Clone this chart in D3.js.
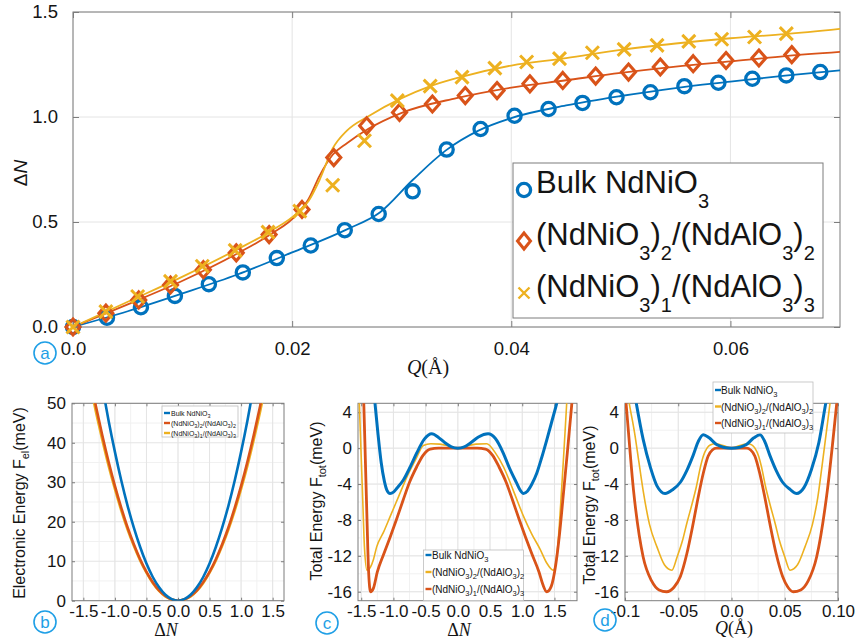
<!DOCTYPE html>
<html>
<head>
<meta charset="utf-8">
<title>Charge disproportionation and energy landscapes of NdNiO3 films</title>
<script src="https://cdn.jsdelivr.net/npm/d3@7/dist/d3.min.js"></script>
<style>
  html, body { margin: 0; padding: 0; background: #fff; }
  svg { display: block; }
  text { font-family: "Liberation Sans", Arial, Helvetica, sans-serif; fill: #141414; }
  .serif { font-family: "Liberation Serif", "Times New Roman", serif; }
</style>
</head>
<body>
<svg id="fig" width="855" height="640"></svg>
<script>
// ===== Panel (a): charge disproportionation ΔN versus breathing amplitude Q =====
const qBulk  = [0, 0.0031, 0.0062, 0.0093, 0.0124, 0.0155, 0.0186, 0.0217, 0.0248, 0.0279, 0.0310, 0.0341,
                0.0372, 0.0403, 0.0434, 0.0465, 0.0496, 0.0527, 0.0558, 0.0589, 0.0620, 0.0651, 0.0682];
const dnBulk = [0, 0.044, 0.094, 0.148, 0.204, 0.260, 0.328, 0.388, 0.461, 0.538, 0.646, 0.845,
                0.943, 1.006, 1.038, 1.067, 1.094, 1.118, 1.147, 1.163, 1.182, 1.198, 1.214];
const q22    = [0, 0.0030, 0.0060, 0.0089, 0.0119, 0.0149, 0.0179, 0.0209, 0.0238, 0.0268, 0.0298, 0.0328,
                0.0358, 0.0387, 0.0417, 0.0447, 0.0477, 0.0507, 0.0536, 0.0566, 0.0596, 0.0626, 0.0656];
const dn22   = [0, 0.066, 0.129, 0.200, 0.273, 0.353, 0.440, 0.560, 0.807, 0.958, 1.022, 1.062,
                1.102, 1.126, 1.158, 1.174, 1.195, 1.214, 1.238, 1.254, 1.269, 1.281, 1.297];
const q13    = [0, 0.0030, 0.0059, 0.0089, 0.0118, 0.0148, 0.0178, 0.0207, 0.0237, 0.0266, 0.0296, 0.0326,
                0.0355, 0.0385, 0.0414, 0.0444, 0.0474, 0.0503, 0.0533, 0.0562, 0.0592, 0.0622, 0.0651];
const dn13   = [0, 0.073, 0.145, 0.217, 0.289, 0.365, 0.452, 0.552, 0.675, 0.887, 1.078, 1.147,
                1.190, 1.233, 1.262, 1.278, 1.306, 1.322, 1.341, 1.360, 1.370, 1.381, 1.397];

// smooth fits through the computed points
const fitQBulk = [0, 0.005, 0.010, 0.015, 0.020, 0.025, 0.028, 0.031, 0.034, 0.037, 0.040, 0.045,
                  0.050, 0.055, 0.060, 0.065, 0.070];
const fitBulk  = [0, 0.075, 0.160, 0.250, 0.355, 0.465, 0.545, 0.700, 0.840, 0.935, 0.995, 1.055,
                  1.100, 1.138, 1.168, 1.197, 1.222];
const fitQ22   = [0, 0.005, 0.010, 0.015, 0.018, 0.0205, 0.0215, 0.0225, 0.0237, 0.025, 0.027, 0.030,
                  0.035, 0.040, 0.045, 0.050, 0.055, 0.060, 0.065, 0.070];
const fit22    = [0, 0.108, 0.220, 0.350, 0.440, 0.540, 0.610, 0.720, 0.820, 0.875, 0.945, 1.020,
                  1.090, 1.140, 1.175, 1.210, 1.240, 1.265, 1.290, 1.310];
const fitQ13   = [0, 0.005, 0.010, 0.015, 0.018, 0.0205, 0.0215, 0.0225, 0.0237, 0.025, 0.027, 0.030,
                  0.0325, 0.035, 0.040, 0.045, 0.050, 0.055, 0.060, 0.065, 0.070];
const fit13    = [0, 0.120, 0.240, 0.370, 0.455, 0.545, 0.600, 0.700, 0.850, 0.935, 1.005, 1.090,
                  1.145, 1.185, 1.245, 1.280, 1.320, 1.350, 1.375, 1.395, 1.420];

const aXTicks = [0, 0.02, 0.04, 0.06],  aXTickLabels = ["0.0", "0.02", "0.04", "0.06"];
const aYTicks = [0, 0.5, 1.0, 1.5],     aYTickLabels = ["0.0", "0.5", "1.0", "1.5"];

// ===== Panel (b): electronic energy versus ΔN =====
const dnB      = [-1.4, -1.3, -1.2, -1.1, -1.0, -0.9, -0.8, -0.7, -0.6, -0.5, -0.4, -0.3, -0.2, -0.1, 0,
                  0.1, 0.2, 0.3, 0.4, 0.5, 0.6, 0.7, 0.8, 0.9, 1.0, 1.1, 1.2, 1.3, 1.4];
const felBulk  = [73.9, 63.7, 54.3, 45.6, 37.7, 30.5, 24.1, 18.5, 13.6, 9.4, 6.0, 3.4, 1.5, 0.4, 0,
                  0.4, 1.5, 3.4, 6.0, 9.4, 13.6, 18.5, 24.1, 30.5, 37.7, 45.6, 54.3, 63.7, 73.9];
const fel22    = [57.0, 49.2, 41.9, 35.2, 29.1, 23.6, 18.6, 14.3, 10.5, 7.3, 4.7, 2.6, 1.2, 0.3, 0,
                  0.3, 1.2, 2.6, 4.7, 7.3, 10.5, 14.3, 18.6, 23.6, 29.1, 35.2, 41.9, 49.2, 57.0];
const fel13    = [55.5, 47.8, 40.8, 34.2, 28.3, 22.9, 18.1, 13.9, 10.2, 7.1, 4.5, 2.5, 1.1, 0.3, 0,
                  0.3, 1.1, 2.5, 4.5, 7.1, 10.2, 13.9, 18.1, 22.9, 28.3, 34.2, 40.8, 47.8, 55.5];
const bXTicks = [-1.5, -1, -0.5, 0, 0.5, 1, 1.5];
const bXTickLabels = ["-1.5", "-1.0", "-0.5", "0.0", "0.5", "1.0", "1.5"];
const bYTicks = [0, 10, 20, 30, 40, 50],  bYTickLabels = ["0", "10", "20", "30", "40", "50"];

// ===== Panel (c): total energy versus ΔN =====
const cDnBulk = [-1.36, -1.286, -1.24, -1.19, -1.14, -1.10, -1.053, -1.00, -0.95, -0.846, -0.74, -0.64,
                 -0.52, -0.405, -0.30, -0.20, -0.10, 0, 0.10, 0.20, 0.32, 0.47, 0.58, 0.707,
                 0.80, 0.914, 0.97, 1.018, 1.08, 1.15, 1.225, 1.30, 1.38, 1.46, 1.535, 1.60];
const cFBulk  = [10, 5.0, 1.6, -1.6, -3.7, -4.7, -5.05, -4.9, -4.5, -3.55, -2.1, -0.57,
                 1.0, 1.6, 1.2, 0.6, 0.15, 0, 0.15, 0.6, 1.25, 1.6, 1.1, -0.57,
                 -2.2, -3.9, -4.7, -5.05, -4.8, -4.0, -2.8, -1.1, 0.9, 3.0, 5.0, 7.0];
const cDn22   = [-1.60, -1.53, -1.505, -1.48, -1.45, -1.41, -1.36, -1.31, -1.26, -1.15, -1.05, -0.92,
                 -0.79, -0.65, -0.535, -0.42, -0.28, -0.14, 0, 0.14, 0.28, 0.45, 0.58, 0.71,
                 0.86, 1.02, 1.15, 1.28, 1.38, 1.48, 1.55, 1.61, 1.65, 1.69, 1.74];
const cF22    = [12, 5.0, 0.0, -5.0, -11.0, -13.6, -13.3, -12.4, -11.0, -9.3, -7.6, -5.4,
                 -3.2, -1.2, 0.3, 0.5, 0.45, 0.25, 0, 0.25, 0.45, 0.5, -0.5, -2.1,
                 -4.7, -7.6, -9.6, -11.3, -12.8, -13.6, -11.0, -4.7, 0, 5.0, 11];
const cDn13   = [-1.50, -1.46, -1.435, -1.41, -1.385, -1.355, -1.31, -1.25, -1.15, -1.05, -0.95, -0.85,
                 -0.75, -0.64, -0.54, -0.43, -0.30, 0, 0.30, 0.43, 0.54, 0.64, 0.75, 0.85,
                 0.95, 1.05, 1.15, 1.26, 1.32, 1.38, 1.45, 1.52, 1.58, 1.64, 1.70, 1.77, 1.82];
const cF13    = [12, 5.0, -1.5, -8.0, -13.8, -16.0, -15.6, -13.8, -11.8, -9.9, -7.9, -5.8,
                 -3.8, -2.1, -0.8, -0.1, 0, 0, 0, -0.1, -0.8, -2.1, -3.8, -5.8,
                 -7.9, -9.9, -11.8, -13.8, -15.2, -16.0, -15.4, -13.0, -9.5, -5.0, -0.5, 5.0, 9.0];
const eYTicks = [-16, -12, -8, -4, 0, 4],  eYTickLabels = ["-16", "-12", "-8", "-4", "0", "4"];

// ===== Panel (d): total energy versus Q =====
const dQBulk = [-0.095, -0.0894, -0.083, -0.076, -0.070, -0.0624, -0.055, -0.048, -0.042, -0.036, -0.031,
                -0.0265, -0.021, -0.014, -0.007, 0, 0.007, 0.014, 0.021, 0.0268, 0.031, 0.036, 0.042,
                0.048, 0.055, 0.0612, 0.068, 0.075, 0.082, 0.0885, 0.095];
const dFBulk = [9, 5.0, 1.0, -2.2, -4.2, -5.05, -4.6, -3.8, -2.5, -0.8, 0.8,
                1.5, 1.15, 0.4, 0.08, 0, 0.08, 0.4, 1.15, 1.5, 0.8, -0.8, -2.5,
                -3.8, -4.6, -5.05, -4.4, -2.4, 0.6, 5.0, 9];
const dQ22   = [-0.100, -0.096, -0.091, -0.087, -0.083, -0.077, -0.070, -0.063, -0.056, -0.051, -0.046,
                -0.042, -0.037, -0.033, -0.029, -0.0265, -0.023, -0.020, -0.015, -0.008, 0, 0.008,
                0.015, 0.019, 0.022, 0.0255, 0.028, 0.032, 0.036, 0.041, 0.045, 0.050, 0.055, 0.062,
                0.069, 0.076, 0.081, 0.085, 0.0925, 0.097];
const dF22   = [8, 5.0, 1.7, -1.5, -4.7, -8.5, -11.0, -13.0, -13.6, -12.1, -10.3,
                -8.4, -6.2, -4.3, -2.0, -0.9, 0.0, 0.36, 0.5, 0.3, 0.05, 0.3,
                0.5, 0.36, 0.0, -0.9, -2.0, -4.3, -6.2, -8.4, -10.3, -12.1, -13.6, -13.0,
                -11.0, -8.5, -5.5, -2.0, 5.0, 9];
const dQ13   = [-0.1005, -0.099, -0.092, -0.083, -0.075, -0.068, -0.061, -0.054, -0.048, -0.042, -0.036,
                -0.031, -0.0265, -0.022, -0.018, -0.014, 0, 0.014, 0.018, 0.022, 0.0265, 0.031,
                0.036, 0.042, 0.048, 0.053, 0.058, 0.065, 0.072, 0.080, 0.090, 0.0988, 0.1005];
const dF13   = [7, 5.0, -4.7, -12.1, -14.8, -15.8, -16.0, -15.5, -14.3, -11.8, -8.4,
                -5.3, -2.8, -0.9, -0.2, 0, 0, 0, -0.2, -0.9, -2.8, -5.3,
                -8.4, -11.8, -14.3, -15.5, -16.0, -15.8, -14.8, -12.1, -4.7, 5.0, 7];
const dXTicks = [-0.1, -0.05, 0, 0.05, 0.1];
const dXTickLabels = ["-0.1", "-0.05", "0.0", "0.05", "0.10"];

// ===== legend names (plain text + subscripts) =====
const nameBulk = [["Bulk NdNiO", 0], ["3", 1]];
const name22   = [["(NdNiO", 0], ["3", 1], [")", 0], ["2", 1], ["/(NdAlO", 0], ["3", 1], [")", 0], ["2", 1]];
const name13   = [["(NdNiO", 0], ["3", 1], [")", 0], ["1", 1], ["/(NdAlO", 0], ["3", 1], [")", 0], ["3", 1]];

// ===== styling =====
const COL = { blue: "#0072BD", red: "#D95319", yellow: "#EDB120" };
const AXIS_COL = "#7d7d7d", GRID_COL = "#e4e4e4", MINOR_COL = "#f1f1f1", BADGE = "#1f9fe6";

const svg = d3.select("#fig");

// text with TeX-like subscripts
function richText(parent, parts, size, subSize, shift) {
  const t = parent.append("text").attr("font-size", size);
  let down = false;
  parts.forEach(([s, sub]) => {
    const ts = t.append("tspan").text(s);
    if (sub) {
      ts.attr("font-size", subSize);
      if (!down) { ts.attr("dy", shift); down = true; }
    } else if (down) { ts.attr("dy", -shift); down = false; }
  });
  return t;
}

function badge(cx, cy, letter) {
  const g = svg.append("g").attr("transform", `translate(${cx},${cy})`);
  g.append("circle").attr("r", 11).attr("fill", "none").attr("stroke", BADGE).attr("stroke-width", 1.6);
  g.append("text").attr("text-anchor", "middle").attr("dy", "0.35em").attr("font-size", 17)
    .style("fill", BADGE).text(letter);
}

function styleAxis(g, size) {
  g.select(".domain").remove();
  g.selectAll(".tick line").attr("stroke", AXIS_COL);
  g.selectAll(".tick text").attr("font-size", size).style("fill", "#141414")
    .attr("font-family", '"Liberation Sans", Arial, sans-serif');
}

// framed axes with inward ticks on all four sides and grid lines
function frame(x, y, opt) {
  const [x0, x1] = x.range(), [y0, y1] = y.range();   // y0 bottom, y1 top
  const g = svg.append("g");
  if (opt.minorX) g.append("g").selectAll("line").data(opt.minorX).join("line")
    .attr("x1", d => x(d)).attr("x2", d => x(d)).attr("y1", y0).attr("y2", y1)
    .attr("stroke", MINOR_COL).attr("stroke-width", 1);
  if (opt.minorY) g.append("g").selectAll("line").data(opt.minorY).join("line")
    .attr("y1", d => y(d)).attr("y2", d => y(d)).attr("x1", x0).attr("x2", x1)
    .attr("stroke", MINOR_COL).attr("stroke-width", 1);
  g.append("g").selectAll("line").data(opt.xTicks).join("line")
    .attr("x1", d => x(d)).attr("x2", d => x(d)).attr("y1", y0).attr("y2", y1)
    .attr("stroke", GRID_COL).attr("stroke-width", 1);
  g.append("g").selectAll("line").data(opt.yTicks).join("line")
    .attr("y1", d => y(d)).attr("y2", d => y(d)).attr("x1", x0).attr("x2", x1)
    .attr("stroke", GRID_COL).attr("stroke-width", 1);

  const ax = g.append("g").attr("transform", `translate(0,${y0})`)
    .call(d3.axisBottom(x).tickValues(opt.xTicks).tickSize(-opt.tick).tickPadding(opt.xPad)
      .tickFormat((d, i) => opt.xLabels[i]));
  styleAxis(ax, opt.font);
  const at = g.append("g").attr("transform", `translate(0,${y1})`)
    .call(d3.axisTop(x).tickValues(opt.xTicks).tickSize(-opt.tick).tickFormat(""));
  styleAxis(at, opt.font);
  const ay = g.append("g").attr("transform", `translate(${x0},0)`)
    .call(d3.axisLeft(y).tickValues(opt.yTicks).tickSize(-opt.tick).tickPadding(opt.yPad)
      .tickFormat((d, i) => opt.yLabels[i]));
  styleAxis(ay, opt.font);
  const ar = g.append("g").attr("transform", `translate(${x1},0)`)
    .call(d3.axisRight(y).tickValues(opt.yTicks).tickSize(-opt.tick).tickFormat(""));
  styleAxis(ar, opt.font);
  g.append("rect").attr("x", x0).attr("y", y1).attr("width", x1 - x0).attr("height", y0 - y1)
    .attr("fill", "none").attr("stroke", AXIS_COL).attr("stroke-width", 1);
  return g;
}

function clipFor(id, x, y) {
  const [x0, x1] = x.range(), [y0, y1] = y.range();
  svg.append("clipPath").attr("id", id).append("rect")
    .attr("x", x0).attr("y", y1).attr("width", x1 - x0).attr("height", y0 - y1);
  return `url(#${id})`;
}

// ===================== Panel (a) =====================
const xA = d3.scaleLinear().domain([0, 0.07]).range([73, 840]);
const yA = d3.scaleLinear().domain([0, 1.5]).range([327, 12]);
frame(xA, yA, { xTicks: aXTicks, yTicks: aYTicks, xLabels: aXTickLabels, yLabels: aYTickLabels,
  tick: 6, xPad: 15, yPad: 15, font: 18.5 });

const lineA = d3.line().x(d => xA(d[0])).y(d => yA(d[1])).curve(d3.curveMonotoneX);
const pA = svg.append("g").attr("clip-path", clipFor("clipA", xA, yA));

const diamond = (w, h) => `M0,${-h}L${w},0L0,${h}L${-w},0Z`;
const cross = s => `M${-s},${-s}L${s},${s}M${-s},${s}L${s},${-s}`;

const seriesA = [
  { q: qBulk, dn: dnBulk, fq: fitQBulk, f: fitBulk, col: COL.blue,   mark: "circle" },
  { q: q22,   dn: dn22,   fq: fitQ22,   f: fit22,   col: COL.red,    mark: "diamond" },
  { q: q13,   dn: dn13,   fq: fitQ13,   f: fit13,   col: COL.yellow, mark: "cross" }
];
seriesA.forEach(s => {
  pA.append("path").datum(s.fq.map((q, i) => [q, s.f[i]]))
    .attr("d", lineA).attr("fill", "none").attr("stroke", s.col).attr("stroke-width", 1.8);
});
seriesA.forEach(s => {
  const pts = s.q.map((q, i) => [q, s.dn[i]]);
  const g = svg.append("g");
  if (s.mark === "circle") {
    g.selectAll("circle").data(pts).join("circle")
      .attr("cx", d => xA(d[0])).attr("cy", d => yA(d[1])).attr("r", 6.6)
      .attr("fill", "none").attr("stroke", s.col).attr("stroke-width", 3.3);
  } else if (s.mark === "diamond") {
    g.selectAll("path").data(pts).join("path")
      .attr("transform", d => `translate(${xA(d[0])},${yA(d[1])})`).attr("d", diamond(7, 8))
      .attr("fill", "none").attr("stroke", s.col).attr("stroke-width", 3.1);
  } else {
    g.selectAll("path").data(pts).join("path")
      .attr("transform", d => `translate(${xA(d[0])},${yA(d[1])})`).attr("d", cross(6.5))
      .attr("fill", "none").attr("stroke", s.col).attr("stroke-width", 3);
  }
});

// axis titles
const aYT = svg.append("text").attr("transform", "translate(27,173) rotate(-90)")
  .attr("text-anchor", "middle").attr("font-size", 19);
aYT.append("tspan").text("Δ");
aYT.append("tspan").attr("font-style", "italic").text("N");
const aXT = svg.append("text").attr("class", "serif").attr("x", 428).attr("y", 374)
  .attr("text-anchor", "middle").attr("font-size", 20);
aXT.append("tspan").attr("font-style", "italic").text("Q");
aXT.append("tspan").text("(Å)");

// legend (a)
const legA = svg.append("g");
legA.append("rect").attr("x", 513).attr("y", 163).attr("width", 310).attr("height", 155)
  .attr("fill", "#fff").attr("stroke", AXIS_COL).attr("stroke-width", 1);
const legRowsA = [
  { name: nameBulk, y: 193, my: 190, mark: "circle",  col: COL.blue },
  { name: name22,   y: 245, my: 241, mark: "diamond", col: COL.red },
  { name: name13,   y: 297, my: 293, mark: "cross",   col: COL.yellow }
];
legRowsA.forEach(r => {
  if (r.mark === "circle") legA.append("circle").attr("cx", 524).attr("cy", r.my).attr("r", 6.6)
    .attr("fill", "none").attr("stroke", r.col).attr("stroke-width", 3.3);
  else if (r.mark === "diamond") legA.append("path").attr("transform", `translate(524,${r.my})`)
    .attr("d", diamond(6.5, 8)).attr("fill", "none").attr("stroke", r.col).attr("stroke-width", 3);
  else legA.append("path").attr("transform", `translate(524,${r.my})`).attr("d", cross(5.5))
    .attr("fill", "none").attr("stroke", r.col).attr("stroke-width", 2.4);
  richText(legA, r.name, 31, 20, 15).attr("x", 536).attr("y", r.y);
});
badge(45, 353, "a");

// ===================== Panel (b) =====================
const xB = d3.scaleLinear().domain([-1.68, 1.68]).range([72, 284]);
const yB = d3.scaleLinear().domain([0, 50]).range([600.7, 403.3]);
frame(xB, yB, { xTicks: bXTicks, yTicks: bYTicks, xLabels: bXTickLabels, yLabels: bYTickLabels,
  tick: 3, xPad: 4, yPad: 6, font: 17,
  minorX: d3.range(-1.5, 1.51, 0.25), minorY: d3.range(5, 50, 10) });
const lineB = d3.line().x(d => xB(d[0])).y(d => yB(d[1])).curve(d3.curveMonotoneX);
const pB = svg.append("g").attr("clip-path", clipFor("clipB", xB, yB));
[[fel13, COL.yellow], [fel22, COL.red], [felBulk, COL.blue]].forEach(([v, c]) => {
  pB.append("path").datum(dnB.map((d, i) => [d, v[i]])).attr("d", lineB)
    .attr("fill", "none").attr("stroke", c).attr("stroke-width", 2.6);
});
richText(svg, [["Electronic Energy F", 0], ["el", 1], ["(meV)", 0]], 16, 11, 4)
  .attr("transform", "translate(25,503) rotate(-90)").attr("text-anchor", "middle");
const bXT = svg.append("text").attr("class", "serif").attr("x", 166).attr("y", 636)
  .attr("text-anchor", "middle").attr("font-size", 18);
bXT.append("tspan").text("Δ");
bXT.append("tspan").attr("font-style", "italic").text("N");

function smallLegend(x0, y0, w, h, rows, font, sub, shift, lineLen, textX) {
  const g = svg.append("g");
  g.append("rect").attr("x", x0).attr("y", y0).attr("width", w).attr("height", h)
    .attr("fill", "#fff").attr("stroke", "#bdbdbd").attr("stroke-width", 0.8);
  rows.forEach(r => {
    g.append("line").attr("x1", x0 + 2).attr("x2", x0 + 2 + lineLen).attr("y1", r.ly).attr("y2", r.ly)
      .attr("stroke", r.col).attr("stroke-width", 2.4);
    richText(g, r.name, font, sub, shift).attr("x", textX).attr("y", r.y);
  });
}
smallLegend(162, 406, 76, 31, [
  { name: nameBulk, y: 415.5, ly: 413, col: COL.blue },
  { name: name22,   y: 425.5, ly: 423, col: COL.red },
  { name: name13,   y: 435.5, ly: 433, col: COL.yellow }
], 7, 5.4, 2, 6, 171);
badge(45, 622, "b");

// ===================== Panel (c) =====================
const xC = d3.scaleLinear().domain([-1.55, 1.85]).range([358, 577]);
const yC = d3.scaleLinear().domain([-17, 5]).range([600.7, 403.3]);
frame(xC, yC, { xTicks: bXTicks, yTicks: eYTicks, xLabels: bXTickLabels, yLabels: eYTickLabels,
  tick: 3, xPad: 4, yPad: 6, font: 17,
  minorX: d3.range(-1.5, 1.81, 0.25), minorY: d3.range(-16, 5, 2) });
const lineC = d3.line().x(d => xC(d[0])).y(d => yC(d[1])).curve(d3.curveMonotoneX);
const pC = svg.append("g").attr("clip-path", clipFor("clipC", xC, yC));
[[cDn22, cF22, COL.yellow, 1.6], [cDn13, cF13, COL.red, 2.8], [cDnBulk, cFBulk, COL.blue, 3]]
  .forEach(([xs, ys, c, w]) => {
    pC.append("path").datum(xs.map((d, i) => [d, ys[i]])).attr("d", lineC)
      .attr("fill", "none").attr("stroke", c).attr("stroke-width", w);
  });
richText(svg, [["Total Energy F", 0], ["tot", 1], ["(meV)", 0]], 16, 11, 4)
  .attr("transform", "translate(322,501) rotate(-90)").attr("text-anchor", "middle");
const cXT = svg.append("text").attr("class", "serif").attr("x", 459).attr("y", 636)
  .attr("text-anchor", "middle").attr("font-size", 18);
cXT.append("tspan").text("Δ");
cXT.append("tspan").attr("font-style", "italic").text("N");
smallLegend(423.5, 550, 100, 50.7, [
  { name: nameBulk, y: 559, ly: 555, col: COL.blue },
  { name: name22,   y: 576, ly: 572, col: COL.yellow },
  { name: name13,   y: 593, ly: 589, col: COL.red }
], 10, 7.5, 3, 6, 432);
badge(327, 623, "c");

// ===================== Panel (d) =====================
const xD = d3.scaleLinear().domain([-0.1, 0.1]).range([625, 838]);
const yD = d3.scaleLinear().domain([-17, 5]).range([600.7, 403.3]);
frame(xD, yD, { xTicks: dXTicks, yTicks: eYTicks, xLabels: dXTickLabels, yLabels: eYTickLabels,
  tick: 3, xPad: 4, yPad: 6, font: 17,
  minorX: d3.range(-0.1, 0.101, 0.025), minorY: d3.range(-16, 5, 2) });
const lineD = d3.line().x(d => xD(d[0])).y(d => yD(d[1])).curve(d3.curveMonotoneX);
const pD = svg.append("g").attr("clip-path", clipFor("clipD", xD, yD));
[[dQ22, dF22, COL.yellow, 1.6], [dQ13, dF13, COL.red, 2.8], [dQBulk, dFBulk, COL.blue, 3]]
  .forEach(([xs, ys, c, w]) => {
    pD.append("path").datum(xs.map((d, i) => [d, ys[i]])).attr("d", lineD)
      .attr("fill", "none").attr("stroke", c).attr("stroke-width", w);
  });
richText(svg, [["Total Energy F", 0], ["tot", 1], ["(meV)", 0]], 16, 11, 4)
  .attr("transform", "translate(595,505) rotate(-90)").attr("text-anchor", "middle");
const dXT = svg.append("text").attr("class", "serif").attr("x", 734).attr("y", 634)
  .attr("text-anchor", "middle").attr("font-size", 18);
dXT.append("tspan").attr("font-style", "italic").text("Q");
dXT.append("tspan").text("(Å)");
smallLegend(713, 382, 100, 51, [
  { name: nameBulk, y: 394, ly: 390, col: COL.blue },
  { name: name22,   y: 410.5, ly: 406.5, col: COL.yellow },
  { name: name13,   y: 427, ly: 423, col: COL.red }
], 10, 7.5, 3, 6, 721);
badge(605, 620, "d");
</script>
</body>
</html>
